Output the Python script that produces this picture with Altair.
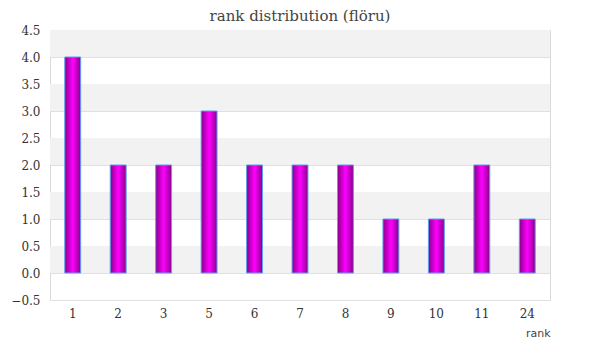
import altair as alt
import pandas as pd

ranks = ["1", "2", "3", "5", "6", "7", "8", "9", "10", "11", "24"]
counts = [4, 2, 2, 3, 2, 2, 2, 1, 1, 2, 1]
y_ticks = [-0.5, 0.0, 0.5, 1.0, 1.5, 2.0, 2.5, 3.0, 3.5, 4.0, 4.5]
band_starts = [0.0, 1.0, 2.0, 3.0, 4.0]

df = pd.DataFrame({"rank": ranks, "count": counts})
bands = pd.DataFrame({"y0": band_starts, "y1": [b + 0.5 for b in band_starts]})

serif = "DejaVu Serif"

yscale = alt.Scale(domain=[-0.5, 4.5], nice=False, zero=False)
yaxis = alt.Axis(title=None, values=y_ticks, format=".1f",
                 ticks=False, domain=False, labelPadding=10,
                 labelFont=serif, labelFontSize=12,
                 labelColor="#333333", grid=True,
                 gridColor="#e0e0e0")

band_layer = alt.Chart(bands).mark_rect(color="#f2f2f2").encode(
    x=alt.value(0), x2=alt.value(500),
    y=alt.Y("y0:Q", scale=yscale, axis=yaxis), y2="y1:Q",
)

grad = alt.Gradient(
    gradient="linear",
    stops=[
        alt.GradientStop(color="#8a008a", offset=0),
        alt.GradientStop(color="#ff00ff", offset=0.5),
        alt.GradientStop(color="#8a008a", offset=1),
    ],
    x1=0, x2=1, y1=0, y2=0,
)

bars = alt.Chart(df).mark_bar(fill=grad, stroke="#5fa0ee", strokeWidth=1).encode(
    x=alt.X("rank:N", sort=ranks,
            scale=alt.Scale(paddingInner=0.65, paddingOuter=0.325),
            axis=alt.Axis(title="rank", labelAngle=0, ticks=False, domain=False,
                          labelPadding=8, labelFont=serif, labelFontSize=12,
                          labelColor="#333333", titleFont="DejaVu Sans",
                          titleFontSize=11, titleFontWeight="normal",
                          titleColor="#444444", titleAnchor="end",
                          titlePadding=8)),
    y=alt.Y("count:Q", scale=yscale, axis=yaxis),
)

chart = alt.layer(band_layer, bars).properties(
    width=500, height=270,
    title=alt.TitleParams("rank distribution (flöru)", font=serif,
                          fontSize=15, fontWeight="normal", color="#444444",
                          offset=0),
    autosize=alt.AutoSizeParams(type="none"),
    padding={"left": 42, "top": 22, "right": 42, "bottom": 50},
).configure_view(stroke="#d9d9d9", strokeWidth=1)

chart.save("out.html", embed_options={"renderer": "svg", "actions": False})
